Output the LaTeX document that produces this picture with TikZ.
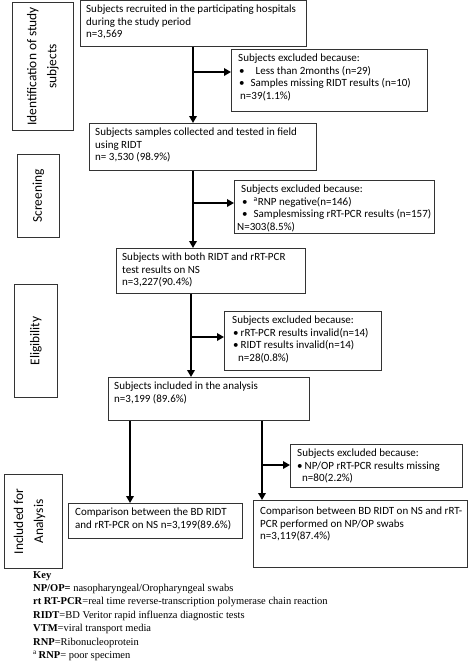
\documentclass[tikz,border=0pt]{standalone}
\usepackage{fontspec}
\setmainfont{Carlito}
\newfontfamily\keyfont{Liberation Serif}
\usetikzlibrary{arrows.meta}
\newcommand\bxfont{\fontsize{11}{12.7}\selectfont}
\newcommand\lbfont{\fontsize{13.4}{20}\selectfont}
\newcommand\placebox[5]{\node[boxsty, minimum width=#4pt, minimum height=#5pt] (#1) at (#2,#3) {};}
\newcommand\bul{\textbullet}
\begin{document}
\begin{tikzpicture}[x=1pt,y=-1pt,
  boxsty/.style={draw=black!80, line width=0.9pt, anchor=north west, inner sep=0pt},
  txt/.style={anchor=north west, inner sep=0pt, align=left, font=\bxfont},
  lab/.style={rotate=90, align=center, inner sep=0pt, font=\lbfont},
  arr/.style={line width=2.4pt, -{Triangle[length=7pt,width=7.5pt]}},
  ln/.style={line width=2.4pt}]
\useasboundingbox (0,0) rectangle (472,662);
% side labels
\placebox{L1}{12}{2}{61}{128}
\placebox{L2}{17}{154}{42}{83}
\placebox{L3}{14}{284}{43}{113}
\placebox{L4}{4}{474}{58}{94}
\node[lab] (t1) at (L1.center) {Identification of study\\subjects};
\node[lab] (t2) at (L2.center) {Screening};
\node[lab] (t3) at (L3.center) {Eligibility};
\node[lab] (t4) at ([xshift=-4pt]L4.center) {Included for\\Analysis};
% main boxes
\placebox{A}{80}{0}{226}{46}
\placebox{B}{89}{123}{227}{47}
\placebox{C}{116}{248}{189}{45}
\placebox{D}{108}{377}{201}{43}
\placebox{E}{68}{503}{174}{35}
\placebox{F}{253}{500}{214}{67}
% exclusion boxes
\placebox{X1}{231}{49}{196}{62}
\placebox{X2}{234}{180}{200}{53}
\placebox{X3}{224}{311}{157}{59}
\placebox{X4}{290}{444}{172}{43}
% texts
\node[txt] (tA) at ([shift={(6pt,-4.5pt)}]A.north west) {Subjects recruited in the participating hospitals\\during the study period\\n=3,569};
\node[txt] (tB) at ([shift={(6pt,-4.5pt)}]B.north west) {Subjects samples collected and tested in field\\using RIDT\\n= 3,530 (98.9\%)};
\node[txt] (tC) at ([shift={(6pt,-4.5pt)}]C.north west) {Subjects with both RIDT and rRT-PCR\\test results on NS\\n=3,227(90.4\%)};
\node[txt] (tD) at ([shift={(6pt,-4.5pt)}]D.north west) {Subjects included in the analysis\\n=3,199 (89.6\%)};
\node[txt] (tE) at ([shift={(7pt,-4.5pt)}]E.north west) {Comparison between the BD RIDT\\and rRT-PCR on NS n=3,199(89.6\%)};
\node[txt] (tF) at ([shift={(7pt,-6.5pt)}]F.north west) {Comparison between BD RIDT on NS and rRT-\\PCR performed on NP/OP swabs\\n=3,119(87.4\%)};
\node[txt] (tX1) at ([shift={(7pt,-4.5pt)}]X1.north west) {Subjects excluded because:\\
\hspace{1pt}\bul\hspace{11pt}Less than 2months (n=29)\\
\hspace{1pt}\bul\hspace{6pt}Samples missing RIDT results (n=10)\\
\hspace{2pt}n=39(1.1\%)};
\node[txt] (tX2) at ([shift={(7pt,-4.5pt)}]X2.north west) {Subjects excluded because:\\
\hspace{1pt}\bul\hspace{6pt}\textsuperscript{a}RNP negative(n=146)\\
\hspace{1pt}\bul\hspace{6pt}Samplesmissing rRT-PCR results (n=157)\\
\hspace{-4pt}N=303(8.5\%)};
\node[txt] (tX3) at ([shift={(8pt,-4.5pt)}]X3.north west) {Subjects excluded because:\\
\hspace{1pt}\bul\hspace{2pt}rRT-PCR results invalid(n=14)\\
\hspace{1pt}\bul\hspace{2pt}RIDT results invalid(n=14)\\
\hspace{6pt}n=28(0.8\%)};
\node[txt] (tX4) at ([shift={(7pt,-4.5pt)}]X4.north west) {Subjects excluded because:\\
\hspace{0pt}\bul\hspace{2pt}NP/OP rRT-PCR results missing\\
\hspace{5pt}n=80(2.2\%)};
% connectors
\coordinate (s1) at (193,72);
\coordinate (s2) at (193,203);
\coordinate (s3) at (191,337);
\coordinate (l4) at (130,460);
\coordinate (s4) at (262,465);
\draw[arr] (A.south -| s1) -- (s1 |- B.north);
\draw[arr] (s1) -- (s1 -| X1.west);
\draw[arr] (B.south -| s2) -- (s2 |- C.north);
\draw[arr] (s2) -- (s2 -| X2.west);
\draw[arr] (C.south -| s3) -- (s3 |- D.north);
\draw[arr] (s3) -- (s3 -| X3.west);
\draw[arr] (D.south -| l4) -- (l4 |- E.north);
\draw[arr] (D.south -| s4) -- (s4 |- F.north);
\draw[arr] (s4) -- (s4 -| X4.west);
% key
\node[anchor=north west, inner sep=0pt, align=left, font=\keyfont\fontsize{10.5}{13.4}\selectfont] (key) at (33,571) {\textbf{Key}\\
\textbf{NP/OP=} nasopharyngeal/Oropharyngeal swabs\\
\textbf{rt RT-PCR}=real time reverse-transcription polymerase chain reaction\\
\textbf{RIDT}=BD Veritor rapid influenza diagnostic tests\\
\textbf{VTM}=viral transport media\\
\textbf{RNP}=Ribonucleoprotein\\
\textsuperscript{a}\,\textbf{RNP}= poor specimen};
\end{tikzpicture}
\end{document}
